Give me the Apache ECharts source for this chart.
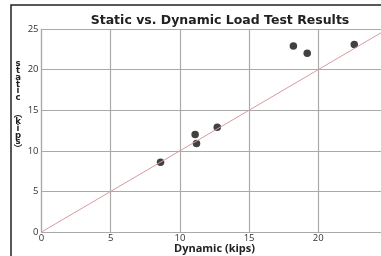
<!DOCTYPE html>
<html>
<head>
<meta charset="utf-8">
<title>Static vs. Dynamic Load Test Results</title>
<style>
  html, body { margin: 0; padding: 0; background: #fff; }
  #main { width: 381px; height: 256px; }
</style>
</head>
<body>
<div id="main"></div>
<script src="https://cdn.jsdelivr.net/npm/echarts@6/dist/echarts.min.js"></script>
<script>
  // test results: [dynamic, static] in kips
  var dynamicKips = [8.6, 11.1, 11.2, 12.7, 18.2, 19.2, 22.6];
  var staticKips = [8.6, 12.0, 10.9, 12.9, 22.9, 22.0, 23.1];
  // reference line static = dynamic
  var refLine = [[0, 0], [25, 25]];
  var ticks = [0, 5, 10, 15, 20, 25];
  // stacked y axis title, one glyph per row
  var yTitleTop = ['s', 't', 'a', 't', 'i', 'c'];
  var yTitleBottom = ['\uFE35', 'k', 'i', 'p', 's', '\uFE36'];

  var points = [];
  for (var i = 0; i < dynamicKips.length; i++) {
    points.push([dynamicKips[i], staticKips[i]]);
  }

  var font = '"Open Sans", "Liberation Sans", sans-serif';
  var myChart = echarts.init(document.getElementById('main'));

  var graphics = [{
    type: 'rect',
    shape: { x: 11, y: 5, width: 420, height: 300 },
    style: { fill: 'none', stroke: '#222', lineWidth: 1.5 },
    silent: true
  }];
  function stackChars(chars, y0) {
    for (var j = 0; j < chars.length; j++) {
      graphics.push({
        type: 'text',
        x: 18,
        y: y0 + j * 6.8,
        style: {
          text: chars[j],
          fontSize: 8.5,
          fontWeight: 'bold',
          align: 'center',
          verticalAlign: 'middle',
          fill: '#222',
          fontFamily: '"DejaVu Sans", "Noto Sans CJK SC", sans-serif'
        }
      });
    }
  }
  stackChars(yTitleTop, 64);
  stackChars(yTitleBottom, 115);

  var option = {
    animation: false,
    backgroundColor: '#fff',
    title: {
      text: 'Static vs. Dynamic Load Test Results',
      left: 215,
      textAlign: 'center',
      top: 9,
      textStyle: { fontSize: 12.5, fontWeight: 'bold', color: '#222', fontFamily: '"DejaVu Sans", sans-serif' }
    },
    grid: { left: 41.5, top: 29, width: 346, height: 203, outerBoundsMode: 'none', containLabel: false },
    xAxis: {
      type: 'value',
      min: ticks[0],
      max: ticks[ticks.length - 1],
      interval: 5,
      name: 'Dynamic (kips)',
      nameLocation: 'middle',
      nameGap: 11,
      nameMoveOverlap: false,
      nameTextStyle: { fontSize: 11, fontWeight: 'bold', color: '#222', fontFamily: font },
      axisLine: { show: true, lineStyle: { color: '#aaa', width: 1.2 } },
      axisTick: { show: false },
      axisLabel: { fontSize: 9.5, color: '#333', margin: 1, fontFamily: font },
      splitLine: { show: true, lineStyle: { color: '#aaa', width: 1.2 } }
    },
    yAxis: {
      type: 'value',
      min: ticks[0],
      max: ticks[ticks.length - 1],
      interval: 5,
      axisLine: { show: true, lineStyle: { color: '#aaa', width: 1.2 } },
      axisTick: { show: false },
      axisLabel: { fontSize: 9.5, color: '#333', margin: 3, fontFamily: font },
      splitLine: { show: true, lineStyle: { color: '#aaa', width: 1.2 } }
    },
    graphic: graphics,
    series: [
      {
        type: 'line',
        data: refLine,
        symbol: 'none',
        lineStyle: { color: '#d99aa0', width: 1 },
        silent: true
      },
      {
        type: 'scatter',
        data: points,
        symbolSize: 7.5,
        itemStyle: { color: '#111' }
      }
    ]
  };

  myChart.setOption(option);
</script>
</body>
</html>
